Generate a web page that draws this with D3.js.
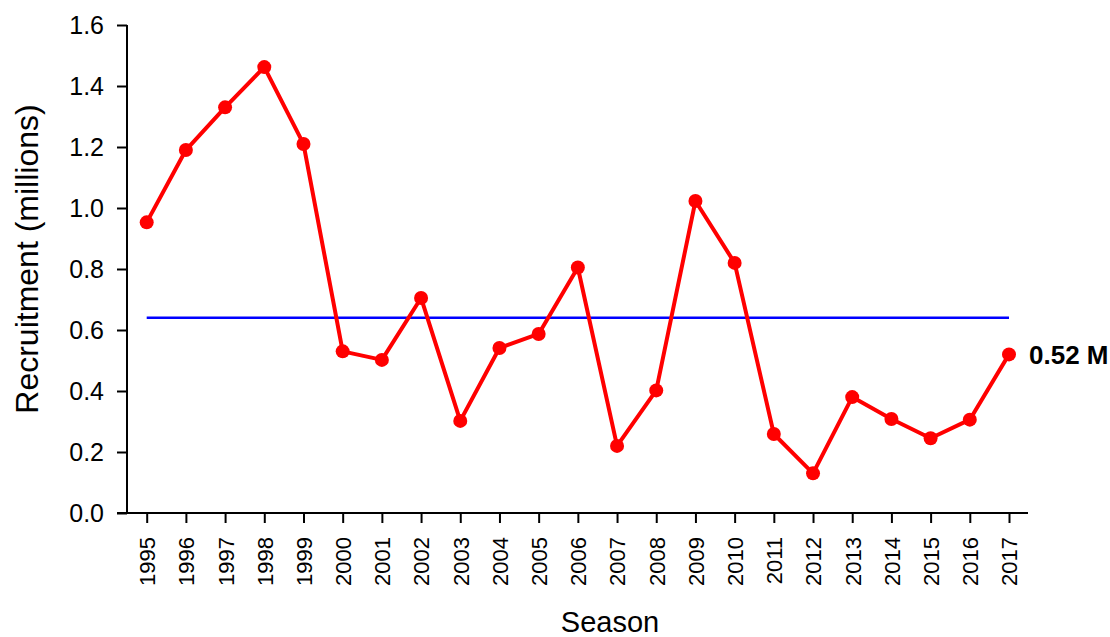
<!DOCTYPE html>
<html>
<head>
<meta charset="utf-8">
<script src="https://cdn.jsdelivr.net/npm/d3@7/dist/d3.min.js"></script>
<style>
  html, body { margin: 0; padding: 0; background: #fff; }
  svg { display: block; font-family: "Liberation Sans", Arial, Helvetica, sans-serif; }
</style>
</head>
<body>
<svg id="chart" width="1110" height="637"></svg>
<script>
// Recruitment by season (millions)
const seasons = [1995, 1996, 1997, 1998, 1999, 2000, 2001, 2002, 2003, 2004, 2005,
                 2006, 2007, 2008, 2009, 2010, 2011, 2012, 2013, 2014, 2015, 2016, 2017];
const recruitment = [0.953, 1.190, 1.330, 1.462, 1.210, 0.530, 0.502, 0.705, 0.302, 0.541, 0.587,
                     0.805, 0.220, 0.402, 1.023, 0.820, 0.259, 0.130, 0.380, 0.308, 0.245, 0.306, 0.52];
// Long-term mean recruitment, drawn across all seasons
const meanRecruitment = seasons.map(() => 0.64);
const yTicks = [0, 0.2, 0.4, 0.6, 0.8, 1.0, 1.2, 1.4, 1.6];

const svg = d3.select("#chart");

const x = d3.scaleLinear().domain([1995, 2017]).range([146.7, 1009]);
const y = d3.scaleLinear().domain([0, 1.6]).range([513, 25]);

// axis lines (open L-shaped frame)
svg.append("line")
  .attr("x1", 127).attr("x2", 127)
  .attr("y1", y(1.6)).attr("y2", y(0))
  .attr("stroke", "#000").attr("stroke-width", 2);
svg.append("line")
  .attr("x1", 117).attr("x2", 1028)
  .attr("y1", y(0)).attr("y2", y(0))
  .attr("stroke", "#000").attr("stroke-width", 2);

// y axis
const yAxis = d3.axisLeft(y)
  .tickValues(yTicks)
  .tickFormat(d3.format(".1f"))
  .tickSize(10)
  .tickPadding(13);
const gy = svg.append("g").attr("transform", "translate(127,0)").call(yAxis);
gy.select(".domain").remove();
gy.selectAll(".tick line").attr("stroke", "#000").attr("stroke-width", 2);
gy.selectAll(".tick text").attr("font-size", 25).attr("fill", "#000");

// x axis
const xAxis = d3.axisBottom(x)
  .tickValues(seasons)
  .tickFormat(d3.format("d"))
  .tickSize(10);
const gx = svg.append("g").attr("transform", `translate(0,${y(0)})`).call(xAxis);
gx.select(".domain").remove();
gx.selectAll(".tick line").attr("stroke", "#000").attr("stroke-width", 2);
gx.selectAll(".tick text")
  .attr("font-size", 22)
  .attr("fill", "#000")
  .attr("transform", "rotate(-90)")
  .attr("text-anchor", "end")
  .attr("dy", "0.36em")
  .attr("x", -24)
  .attr("y", 0);

// axis titles
svg.append("text")
  .attr("x", 610).attr("y", 632)
  .attr("text-anchor", "middle")
  .attr("font-size", 29)
  .text("Season");
svg.append("text")
  .attr("transform", "translate(38,259) rotate(-90)")
  .attr("text-anchor", "middle")
  .attr("font-size", 32)
  .text("Recruitment (millions)");

// mean line
const meanLine = d3.line().x((d, i) => x(seasons[i])).y(d => y(d));
svg.append("path")
  .datum(meanRecruitment)
  .attr("d", meanLine)
  .attr("fill", "none")
  .attr("stroke", "#0000ff")
  .attr("stroke-width", 2.5);

// recruitment series
const data = seasons.map((s, i) => ({ season: s, value: recruitment[i] }));
const line = d3.line().x(d => x(d.season)).y(d => y(d.value));
svg.append("path")
  .datum(data)
  .attr("d", line)
  .attr("fill", "none")
  .attr("stroke", "#ff0000")
  .attr("stroke-width", 4)
  .attr("stroke-linejoin", "round");
svg.append("g").selectAll("circle")
  .data(data)
  .join("circle")
  .attr("cx", d => x(d.season))
  .attr("cy", d => y(d.value))
  .attr("r", 7)
  .attr("fill", "#ff0000");

// latest value label
const last = data[data.length - 1];
svg.append("text")
  .attr("x", x(last.season) + 20)
  .attr("y", y(last.value))
  .attr("dy", "0.35em")
  .attr("font-size", 26)
  .attr("font-weight", "bold")
  .text(d3.format(".2f")(last.value) + " M");
</script>
</body>
</html>
